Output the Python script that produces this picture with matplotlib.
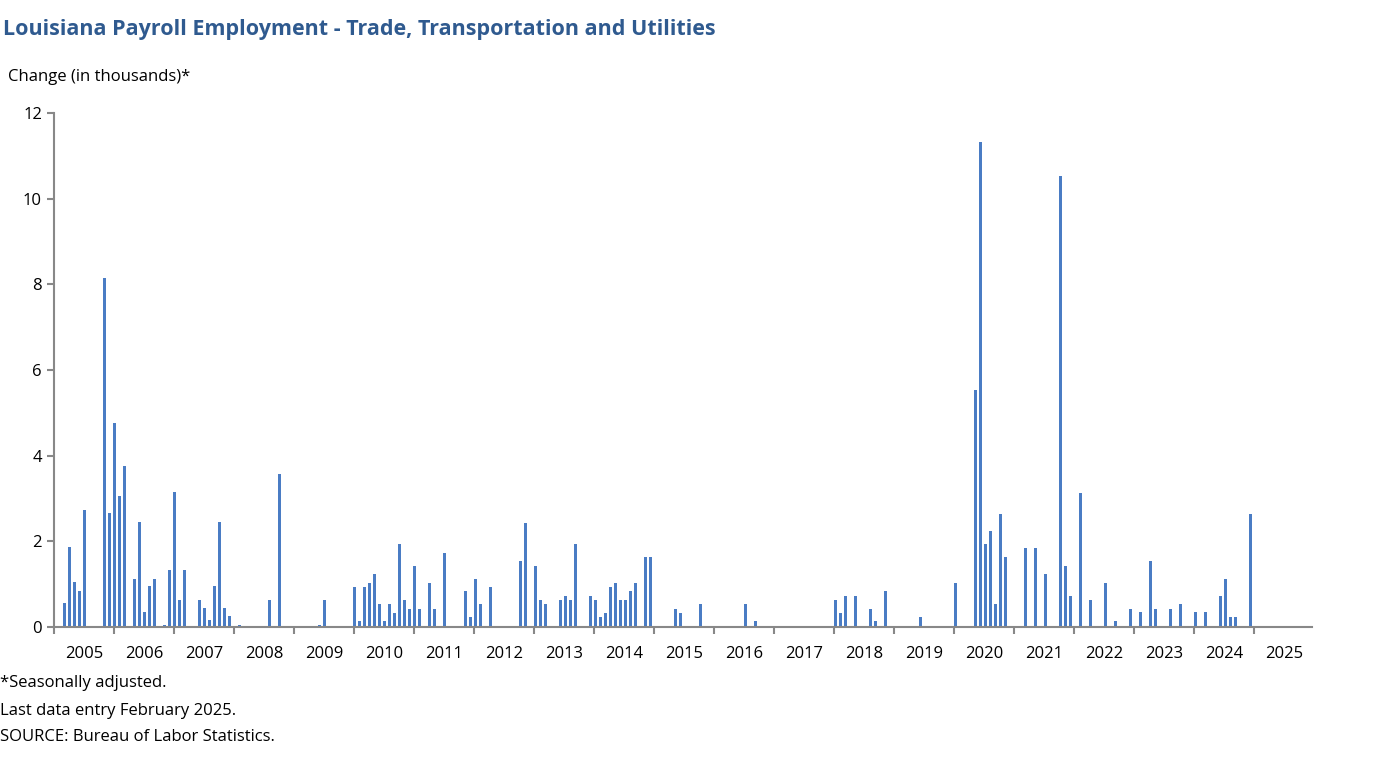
import matplotlib.pyplot as plt

# month index counted from Jan 2005, positive changes only (thousands)
months = [2, 3, 4, 5, 6, 10, 11, 12, 13, 14, 16, 17, 18, 19, 20, 22, 23, 24, 25, 26,
          29, 30, 31, 32, 33, 34, 35, 37, 43, 45, 53, 54,
          60, 61, 62, 63, 64, 65, 66, 67, 68, 69, 70, 71, 72, 73, 75, 76, 78,
          82, 83, 84, 85, 86, 87, 89, 93, 94, 96, 97, 98, 101, 102, 103, 104,
          107, 108, 109, 110, 111, 112, 113, 114, 115, 116, 118, 119,
          124, 125, 127, 129, 138, 140, 145, 156, 157, 158, 160, 163, 164, 166,
          171, 173, 180, 184, 185, 186, 187, 188, 189, 190, 191, 192, 194, 196, 198,
          201, 202, 203, 205, 207, 210, 211, 212, 215, 217, 219, 220, 223, 225,
          228, 230, 232, 233, 234, 235, 236, 237, 239]
values = [0.55, 1.86, 1.05, 0.85, 2.74, 8.15, 2.65, 4.75, 3.05, 3.75, 1.13, 2.44, 0.34, 0.95, 1.13, 0.04, 1.34, 3.14, 0.64, 1.34,
          0.64, 0.44, 0.16, 0.95, 2.44, 0.44, 0.25, 0.04, 0.64, 3.56, 0.04, 0.64,
          0.94, 0.15, 0.94, 1.03, 1.24, 0.54, 0.15, 0.54, 0.33, 1.94, 0.64, 0.43, 1.43, 0.43, 1.03, 0.43, 1.73,
          0.85, 0.24, 1.13, 0.54, 0.03, 0.94, 0.03, 1.55, 2.43, 1.43, 0.64, 0.54, 0.64, 0.73, 0.64, 1.94,
          0.73, 0.64, 0.24, 0.33, 0.94, 1.03, 0.64, 0.64, 0.85, 1.03, 1.64, 1.64,
          0.43, 0.33, 0.03, 0.54, 0.54, 0.15, 0.03, 0.64, 0.33, 0.73, 0.73, 0.43, 0.15, 0.85,
          0.03, 0.24, 1.03, 5.54, 11.33, 1.94, 2.24, 0.54, 2.63, 1.63, 0.03, 0.03, 1.84, 1.84, 1.24,
          10.53, 1.42, 0.73, 3.12, 0.63, 1.03, 0.03, 0.14, 0.42, 0.34, 1.54, 0.42, 0.42, 0.54,
          0.34, 0.34, 0.03, 0.73, 1.12, 0.24, 0.24, 0.03, 2.63]
years = list(range(2005, 2026))

plt.rcParams['font.family'] = 'Open Sans'

fig = plt.figure(figsize=(13.8, 7.68), dpi=100)
ax = fig.add_axes([0.039, 0.1836, 0.912, 0.6694])
ax.bar([m + 0.2 for m in months], values, width=0.6, color='#4A7CC4')

ax.set_xlim(0, 251.6)
ax.set_ylim(0, 12)
ax.set_yticks(range(0, 13, 2))
ax.set_xticks([12 * i for i in range(len(years))])
ax.set_xticklabels([])
ax.set_xticks([12 * i + 6 for i in range(len(years))], minor=True)
ax.set_xticklabels([str(y) for y in years], minor=True)
ax.tick_params(axis='x', which='minor', length=0, labelsize=12, pad=14)
ax.tick_params(axis='x', which='major', length=5, color='#888888', width=1.5)
ax.tick_params(axis='y', length=5, color='#888888', width=1.5, labelsize=12)
for s in ['top', 'right']:
    ax.spines[s].set_visible(False)
for s in ['left', 'bottom']:
    ax.spines[s].set_color('#888888')
    ax.spines[s].set_linewidth(1.5)

fig.text(0.002, 0.962, 'Louisiana Payroll Employment - Trade, Transportation and Utilities',
         fontsize=15.5, fontweight='bold', color='#2F5A8F', va='center')
fig.text(0.006, 0.9, 'Change (in thousands)*', fontsize=12, va='center')
fig.text(0.0, 0.111, '*Seasonally adjusted.', fontsize=12, va='center')
fig.text(0.0, 0.074, 'Last data entry February 2025.', fontsize=12, va='center')
fig.text(0.0, 0.040, 'SOURCE: Bureau of Labor Statistics.', fontsize=12, va='center')

fig.savefig('out.png', dpi=100)
